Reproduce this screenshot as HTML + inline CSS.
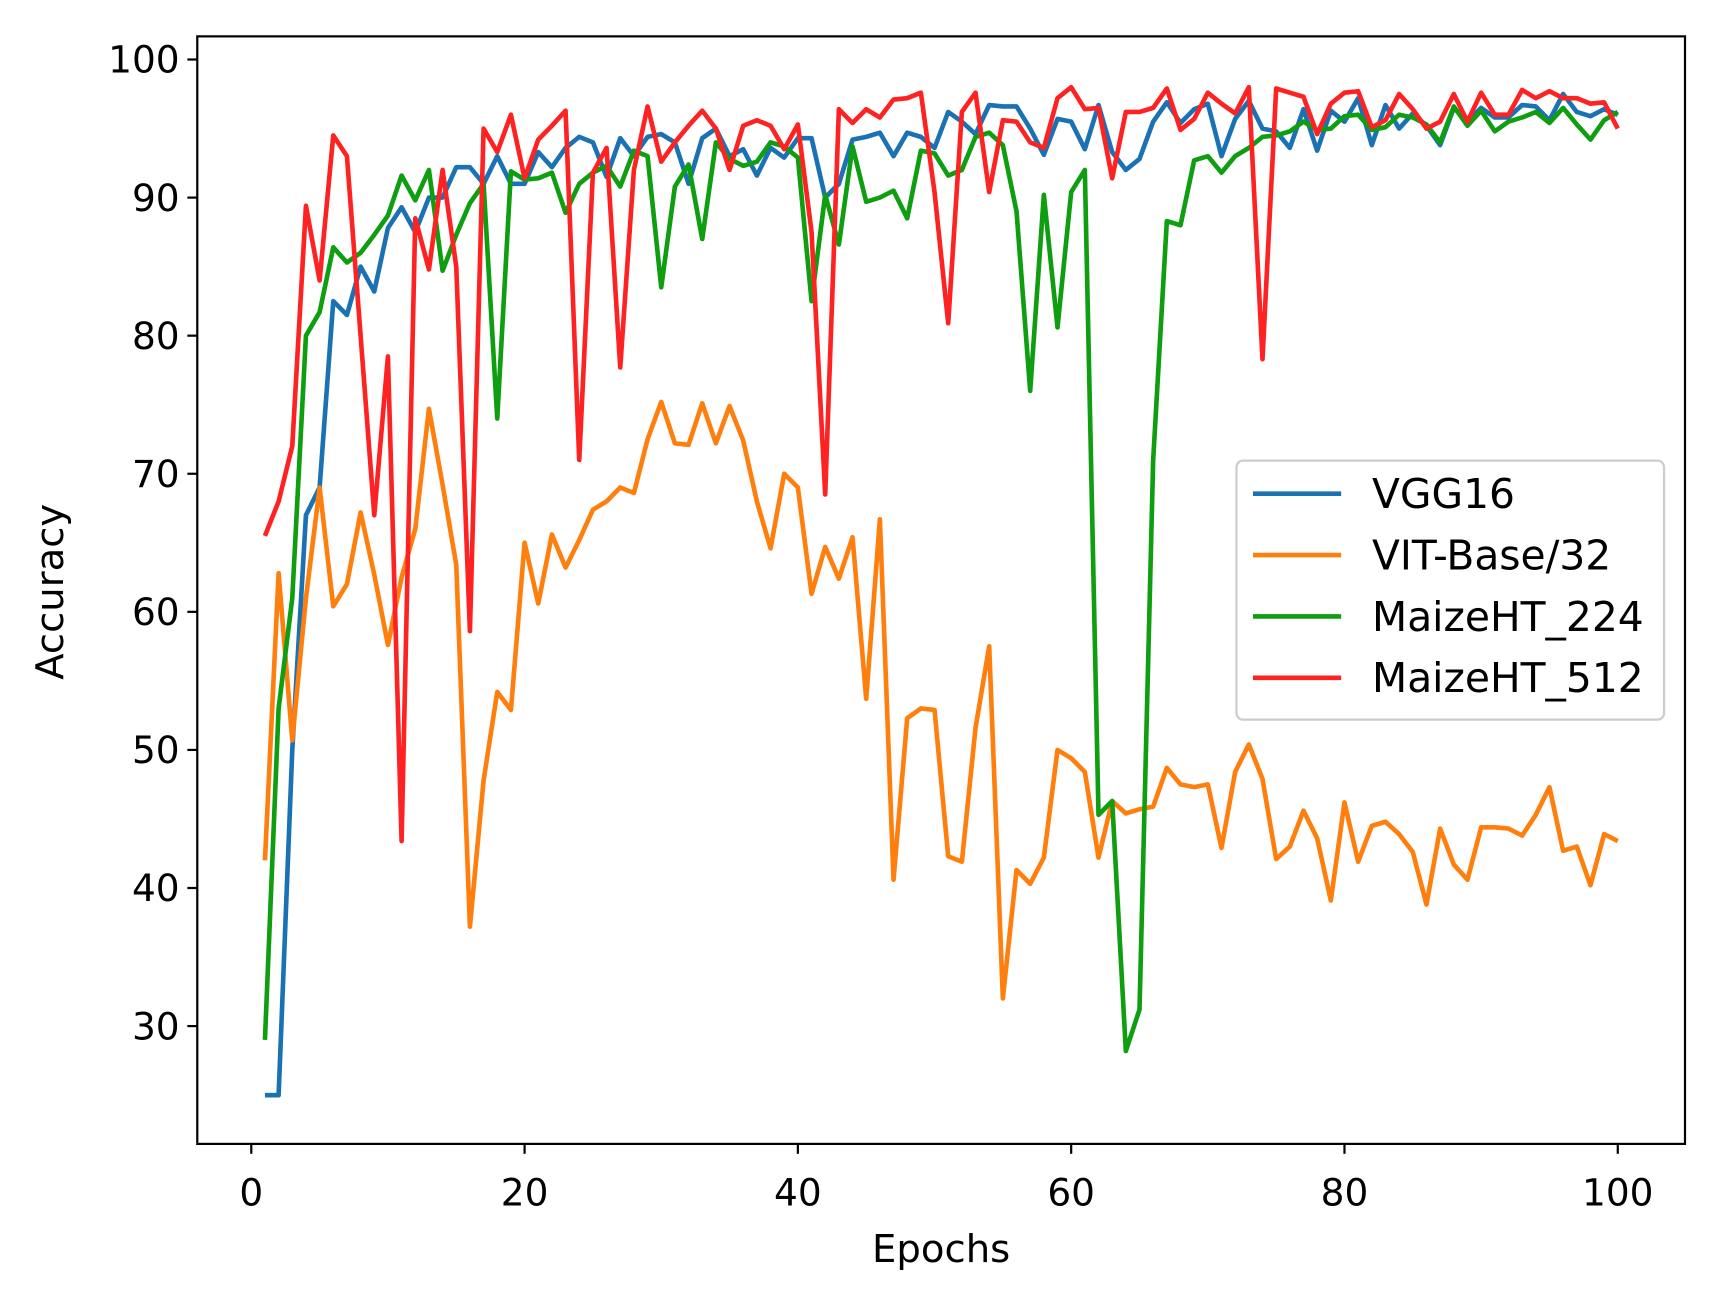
<!DOCTYPE html>
<html><head><meta charset="utf-8"><style>html,body{margin:0;padding:0;background:#fff}svg{display:block}text{font-family:"DejaVu Sans","Liberation Sans",sans-serif;fill:#000}</style></head>
<body>
<svg id="s" width="1728" height="1292" viewBox="0 0 1568 1172.4" xmlns="http://www.w3.org/2000/svg"></svg>
<script>
const V=[25,25,50,67,69,82.5,81.5,85,83.2,87.8,89.3,87.5,90,90,92.2,92.2,91,93,91,91,93.3,92.2,93.6,94.4,94,91.5,94.3,93,94.4,94.6,94,91,94.3,95,93,93.5,91.6,93.6,92.9,94.3,94.3,90,91,94.2,94.4,94.7,93,94.7,94.4,93.6,96.2,95.5,94.6,96.7,96.6,96.6,95,93.1,95.7,95.5,93.5,96.7,93.3,92,92.8,95.5,96.9,95.4,96.4,96.8,93,95.7,97,95,94.8,93.6,96.4,93.4,96.3,95.5,97.2,93.8,96.7,95,96.1,95.2,93.8,96.5,95.5,96.5,95.8,95.8,96.7,96.6,95.6,97.5,96.2,95.9,96.4,96];
const O=[42,62.8,50.7,61,69,60.4,62,67.2,62.7,57.6,62.5,66,74.7,69.2,63.4,37.2,47.8,54.2,52.9,65,60.6,65.6,63.2,65.2,67.4,68,69,68.6,72.5,75.2,72.2,72.1,75.1,72.2,74.9,72.4,68,64.6,70,69,61.3,64.7,62.4,65.4,53.7,66.7,40.6,52.3,53,52.9,42.3,41.9,51.6,57.5,32,41.3,40.3,42.2,50,49.4,48.4,42.2,46.3,45.4,45.7,45.9,48.7,47.5,47.3,47.5,42.9,48.4,50.4,47.9,42.1,43,45.6,43.6,39.1,46.2,41.9,44.5,44.8,43.9,42.6,38.8,44.3,41.7,40.6,44.4,44.4,44.3,43.8,45.3,47.3,42.7,43,40.2,43.9,43.4];
const G=[29,53,61,80,81.7,86.4,85.3,86,87.3,88.7,91.6,89.8,92,84.7,87.3,89.6,91,74,91.9,91.3,91.4,91.8,88.9,91,91.8,92.3,90.8,93.4,93,83.5,90.8,92.4,87,94,92.8,92.3,92.6,94,93.7,92.9,82.5,90.2,86.6,93.7,89.7,90,90.5,88.5,93.4,93.2,91.6,92,94.4,94.7,93.8,89,76,90.2,80.6,90.4,92,45.3,46.3,28.2,31.2,71,88.3,88,92.7,93,91.8,93,93.6,94.4,94.5,94.8,95.5,94.9,95,95.9,96,94.9,95.1,96,95.8,95.3,94,96.6,95.2,96.3,94.8,95.5,95.8,96.2,95.4,96.5,95.3,94.2,95.6,96.2];
const R=[65.5,68,72,89.4,84,94.5,93,80,67,78.5,43.4,88.5,84.8,92,85,58.6,95,93.3,96,91.4,94.2,95.2,96.3,71,91.8,93.6,77.7,92,96.6,92.6,94,95.2,96.3,95,92,95.2,95.6,95.2,93.5,95.3,87.5,68.5,96.4,95.4,96.4,95.8,97.1,97.2,97.6,90.4,80.9,96.2,97.6,90.4,95.6,95.5,94,93.6,97.2,98,96.4,96.5,91.4,96.2,96.2,96.5,97.9,94.9,95.7,97.6,96.8,96.1,98,78.3,97.9,97.6,97.3,94.6,96.8,97.6,97.7,95.1,95.6,97.5,96.4,95,95.5,97.5,95.5,97.6,96,96,97.8,97.2,97.7,97.2,97.2,96.8,96.9,95];
const X=e=>228+12.4*e, Y=v=>54+(100-v)*12.53;
let h='<rect x="179" y="33" width="1350" height="1005" fill="none" stroke="#000" stroke-width="2"/>';
function pl(d,c){return '<polyline fill="none" stroke="'+c+'" stroke-width="4.2" stroke-linejoin="round" points="'+d.map((v,i)=>X(i+1).toFixed(1)+','+Y(v).toFixed(1)).join(' ')+'"/>';}
let lines=pl(V,'#1a72b5')+pl(O,'#ff7f0e')+pl(G,'#0e9e10')+pl(R,'#ff2222');
h='<clipPath id="c"><rect x="179" y="33" width="1350" height="1005"/></clipPath><g clip-path="url(#c)">'+lines+'</g>'+h;
for(let v=30;v<=100;v+=10){let y=Y(v);h+='<line x1="170" x2="179" y1="'+y+'" y2="'+y+'" stroke="#000" stroke-width="2"/><text x="163" y="'+(y+12)+'" font-size="34" text-anchor="end">'+v+'</text>';}
for(let e=0;e<=100;e+=20){let x=X(e);h+='<line x1="'+x+'" x2="'+x+'" y1="1038" y2="1047" stroke="#000" stroke-width="2"/><text x="'+x+'" y="1094" font-size="34" text-anchor="middle">'+e+'</text>';}
h+='<text x="854" y="1145" font-size="35" text-anchor="middle">Epochs</text>';
h+='<text transform="translate(57,537) rotate(-90)" font-size="35" text-anchor="middle">Accuracy</text>';
h+='<rect x="1122" y="418" width="388" height="235" rx="6" fill="#fff" fill-opacity="0.8" stroke="#ccc" stroke-width="2"/>';
[['VGG16','#1a72b5'],['VIT-Base/32','#ff7f0e'],['MaizeHT_224','#0e9e10'],['MaizeHT_512','#ff2222']].forEach((t,i)=>{let y=448+i*55.7;h+='<line x1="1137" x2="1217" y1="'+y+'" y2="'+y+'" stroke="'+t[1]+'" stroke-width="4.2"/><text x="1245" y="'+(y+13)+'" font-size="37">'+t[0]+'</text>';});
document.getElementById('s').innerHTML=h;
</script>
</body></html>
